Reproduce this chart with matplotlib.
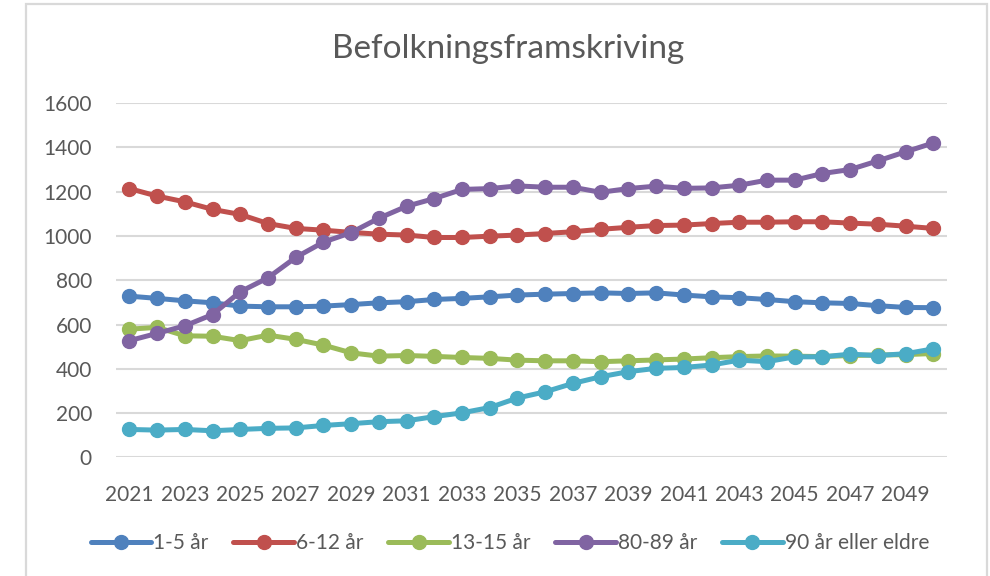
import matplotlib
matplotlib.use("Agg")
import matplotlib.pyplot as plt
from matplotlib.patches import Rectangle

years = list(range(2021, 2051))

age_1_5 = [728, 718, 707, 698, 683, 680, 680, 683, 690, 698,
           703, 713, 718, 725, 733, 737, 740, 743, 740, 743,
           733, 725, 721, 713, 703, 698, 695, 685, 677, 676]
age_6_12 = [1214, 1180, 1154, 1120, 1097, 1056, 1034, 1026, 1016, 1008,
            1004, 993, 993, 999, 1004, 1011, 1019, 1030, 1039, 1047,
            1049, 1056, 1062, 1062, 1064, 1064, 1058, 1053, 1044, 1034]
age_13_15 = [579, 587, 549, 547, 527, 552, 533, 507, 472, 457,
             460, 456, 451, 447, 439, 436, 436, 432, 436, 440,
             444, 450, 455, 458, 457, 455, 460, 462, 464, 469]
age_80_89 = [527, 560, 594, 645, 748, 811, 903, 972, 1015, 1080,
             1134, 1169, 1210, 1214, 1226, 1220, 1220, 1197, 1214, 1225,
             1215, 1217, 1229, 1252, 1252, 1282, 1300, 1339, 1380, 1420]
age_90 = [126, 123, 126, 120, 126, 131, 133, 144, 152, 161,
          165, 184, 201, 225, 268, 296, 334, 364, 387, 402,
          406, 417, 439, 432, 454, 454, 466, 460, 468, 490]

series = [
    ("1-5 år", age_1_5, "#4F81BD"),
    ("6-12 år", age_6_12, "#C0504D"),
    ("13-15 år", age_13_15, "#9BBB59"),
    ("80-89 år", age_80_89, "#8064A2"),
    ("90 år eller eldre", age_90, "#4BACC6"),
]

plt.rcParams["font.family"] = ["Lato", "DejaVu Sans"]
text_col = "#595959"

fig = plt.figure(figsize=(9.9, 5.76), dpi=100)
ax = fig.add_axes([0.1167, 0.206, 0.8400, 0.615])

# chart frame like the excel chart box
fig.patches.append(Rectangle((26 / 990, -0.01), (987 - 26) / 990, 1 - 4 / 576 + 0.01,
                             transform=fig.transFigure, fill=False,
                             edgecolor="#D9D9D9", linewidth=1.6))

for name, vals, col in series:
    ax.plot(years, vals, color=col, linewidth=3.6, marker="o",
            markersize=10, label=name, solid_capstyle="round")

ax.set_xlim(2020.5, 2050.5)
ax.set_ylim(0, 1600)
ax.set_yticks(range(0, 1601, 200))
ax.set_xticks(range(2021, 2050, 2))
ax.grid(axis="y", color="#D9D9D9", linewidth=1.5)
ax.set_axisbelow(True)
for s in ax.spines.values():
    s.set_visible(False)
ax.tick_params(length=0, labelsize=15, labelcolor=text_col)
ax.tick_params(axis="y", pad=17)
ax.tick_params(axis="x", pad=20)

fig.text(0.513, 0.915, "Befolkningsframskriving", ha="center", va="center",
         fontsize=24, color=text_col)

leg = fig.legend(loc="center", bbox_to_anchor=(0.515, 0.057), ncol=5,
                 frameon=False, fontsize=15, handlelength=2.9,
                 handletextpad=0.1, columnspacing=1.2)
for t in leg.get_texts():
    t.set_color(text_col)

fig.savefig("out.png", dpi=100)
